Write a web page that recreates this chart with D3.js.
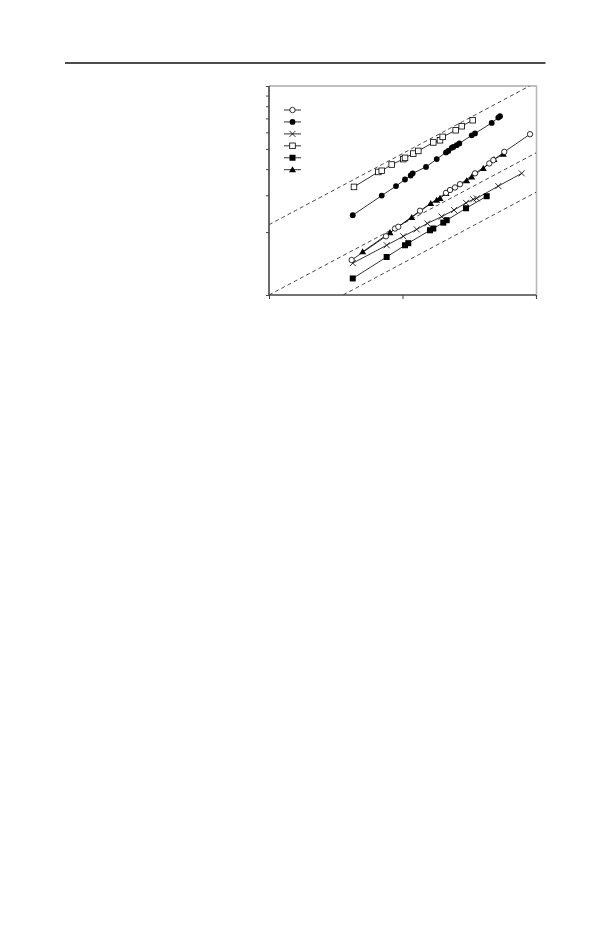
<!DOCTYPE html>
<html><head><meta charset="utf-8">
<script src="https://cdn.jsdelivr.net/npm/d3@7"></script>
<style>html,body{margin:0;padding:0;background:#fff;}</style>
</head><body>
<script>
// ---- data (log-log axes, x: 1..100, y: 1..10) ----
const xTicks = [1, 10, 100];
const yTicks = [1, 2, 3, 4, 5, 6, 7, 8, 9, 10];
const refCoef = [2.17, 1.0, 0.648];   // dashed reference lines y = c * x^refExp
const refExp = 0.34;
const seriesMarkers = ["openCircle", "filledCircle", "cross", "openSquare", "filledSquare", "filledTriangle"];

const s1x = [4.16, 7.52, 8.79, 9.30, 13.52, 21.18, 22.69, 24.73, 26.96, 34.92, 44.69, 47.88, 57.88, 90.2];
const s1y = [1.47, 1.91, 2.08, 2.12, 2.53, 3.08, 3.18, 3.27, 3.39, 3.82, 4.26, 4.42, 4.84, 5.88];
const s2x = [4.24, 6.99, 8.94, 10.44, 11.52, 11.92, 15.0, 18.04, 21.18, 22.03, 23.36, 24.02, 25.47, 26.64, 33.0, 34.92, 46.58, 52.2, 53.75];
const s2y = [2.41, 2.99, 3.32, 3.57, 3.73, 3.82, 4.10, 4.47, 4.81, 4.89, 5.06, 5.11, 5.21, 5.31, 5.81, 5.93, 6.66, 7.06, 7.17];
const s3x = [4.24, 7.61, 10.14, 12.78, 15.34, 19.66, 24.31, 29.91, 33.9, 35.96, 52.2, 78.2];
const s3y = [1.42, 1.73, 1.91, 2.06, 2.20, 2.37, 2.55, 2.76, 2.87, 2.90, 3.32, 3.82];
const s4x = [4.33, 6.59, 6.99, 8.30, 10.14, 10.44, 12.04, 13.13, 17.01, 19.09, 20.0, 25.03, 27.76, 33.56];
const s4y = [3.29, 3.88, 3.93, 4.21, 4.47, 4.53, 4.75, 4.89, 5.37, 5.50, 5.71, 6.14, 6.42, 6.86];
const s5x = [4.24, 7.61, 10.44, 11.05, 16.07, 17.01, 20.21, 21.43, 29.91, 42.72];
const s5y = [1.20, 1.52, 1.73, 1.77, 2.04, 2.08, 2.22, 2.28, 2.60, 2.97];
const s6x = [5.03, 8.06, 11.72, 16.27, 18.04, 19.09, 21.18, 30.26, 33.0, 40.29, 48.46, 56.9];
const s6y = [1.61, 1.99, 2.35, 2.74, 2.84, 2.90, 3.06, 3.52, 3.67, 4.03, 4.45, 4.72];

const seriesX = [s1x, s2x, s3x, s4x, s5x, s6x];
const seriesY = [s1y, s2y, s3y, s4y, s5y, s6y];

// ---- layout ----
const W = 610, H = 925;
const L = 269, R = 536, T = 86, B = 295;

const svg = d3.select("body").append("svg").attr("width", W).attr("height", H)
  .style("display", "block").style("background", "#fff");

// page rule
svg.append("line").attr("x1", 65).attr("x2", 545.5).attr("y1", 63).attr("y2", 63)
  .attr("stroke", "#111").attr("stroke-width", 1.3);

const x = d3.scaleLog().domain([1, 100]).range([L, R]);
const y = d3.scaleLog().domain([1, 10]).range([B, T]);

const defs = svg.append("defs");
defs.append("clipPath").attr("id", "plot").append("rect")
  .attr("x", L).attr("y", T).attr("width", R - L).attr("height", B - T);

// frame: top and right in grey
svg.append("line").attr("x1", L).attr("x2", R + 1).attr("y1", T).attr("y2", T)
  .attr("stroke", "#a8a8a8").attr("stroke-width", 1.6);
svg.append("line").attr("x1", R + 0.5).attr("x2", R + 0.5).attr("y1", T).attr("y2", B + 3)
  .attr("stroke", "#b8b8b8").attr("stroke-width", 1.6);

// dashed reference lines
const refG = svg.append("g").attr("clip-path", "url(#plot)");
const xs = d3.range(0, 2.001, 0.05).map(t => Math.pow(10, t));
const refLine = d3.line().x(d => x(d[0])).y(d => y(d[1]));
refCoef.forEach(c => {
  const pts = xs.map(v => [v, c * Math.pow(v, refExp)]).filter(p => p[1] > 0.5 && p[1] < 20);
  refG.append("path").attr("d", refLine(pts)).attr("fill", "none")
    .attr("stroke", "#333").attr("stroke-width", 0.9).attr("stroke-dasharray", "4,3");
});

// axes
const yAxis = d3.axisLeft(y).tickValues(yTicks).tickSize(3).tickFormat("");
const xAxis = d3.axisBottom(x).tickValues(xTicks).tickSize(4).tickFormat("");
const gy = svg.append("g").attr("transform", `translate(${L},0)`).call(yAxis);
const gx = svg.append("g").attr("transform", `translate(0,${B})`).call(xAxis);
[gx, gy].forEach(g => {
  g.select(".domain").attr("stroke", "#444").attr("stroke-width", 1.6);
  g.selectAll(".tick line").attr("stroke", "#444").attr("stroke-width", 1);
});
gy.select(".domain").attr("d", `M0,${B}V${T}`);
gx.select(".domain").attr("d", `M${L},0H${R}`);

// marker drawing
function drawMarker(g, type, cx, cy) {
  switch (type) {
    case "openCircle":
      g.append("circle").attr("cx", cx).attr("cy", cy).attr("r", 2.7)
        .attr("fill", "#fff").attr("stroke", "#000").attr("stroke-width", 0.8); break;
    case "filledCircle":
      g.append("circle").attr("cx", cx).attr("cy", cy).attr("r", 2.9).attr("fill", "#000"); break;
    case "cross":
      g.append("path").attr("d", `M${cx-3},${cy-3}L${cx+3},${cy+3}M${cx-3},${cy+3}L${cx+3},${cy-3}`)
        .attr("stroke", "#000").attr("stroke-width", 0.8); break;
    case "openSquare":
      g.append("rect").attr("x", cx - 2.8).attr("y", cy - 2.8).attr("width", 5.6).attr("height", 5.6)
        .attr("fill", "#fff").attr("stroke", "#000").attr("stroke-width", 0.8); break;
    case "filledSquare":
      g.append("rect").attr("x", cx - 3).attr("y", cy - 3).attr("width", 6).attr("height", 6).attr("fill", "#000"); break;
    case "filledTriangle":
      g.append("path").attr("d", `M${cx},${cy-3.5}L${cx+3.5},${cy+2.6}L${cx-3.5},${cy+2.6}Z`).attr("fill", "#000"); break;
  }
}

// series
const line = d3.line().x(d => x(d[0])).y(d => y(d[1]));
const drawOrder = [4, 2, 5, 0, 1, 3];
drawOrder.forEach(i => {
  const pts = seriesX[i].map((v, k) => [v, seriesY[i][k]]);
  const g = svg.append("g");
  g.append("path").attr("d", line(pts)).attr("fill", "none").attr("stroke", "#000").attr("stroke-width", 0.8);
  pts.forEach(p => drawMarker(g, seriesMarkers[i], x(p[0]), y(p[1])));
});

// legend
const legY = d3.scaleLinear().domain([0, 5]).range([110, 169.7]);
seriesMarkers.forEach((m, i) => {
  const g = svg.append("g");
  const yy = legY(i);
  g.append("line").attr("x1", 284).attr("x2", 301).attr("y1", yy).attr("y2", yy)
    .attr("stroke", "#000").attr("stroke-width", 0.8);
  drawMarker(g, m, 292.5, yy);
});
</script>
</body></html>
